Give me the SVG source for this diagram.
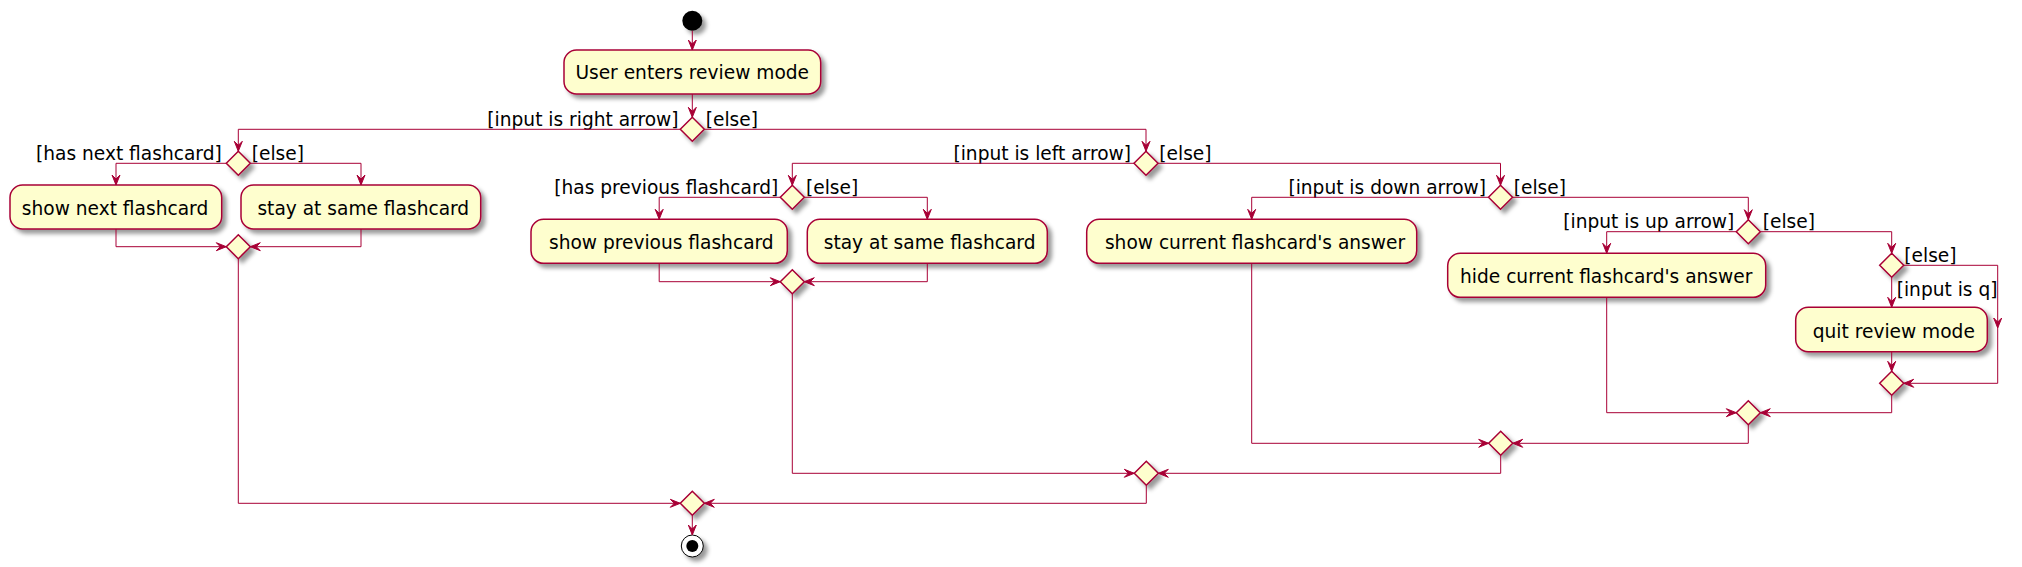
<svg xmlns="http://www.w3.org/2000/svg" width="2022" height="567" viewBox="0 0 2022 567">
<defs>
<filter id="sh" x="-1" y="-1" width="300%" height="300%">
<feGaussianBlur result="b1" stdDeviation="2"/>
<feColorMatrix in="b1" result="b2" type="matrix" values="0 0 0 0 0 0 0 0 0 0 0 0 0 0 0 0 0 0 .4 0"/>
<feOffset dx="4" dy="4" in="b2" result="b3"/>
<feBlend in="SourceGraphic" in2="b3" mode="normal"/>
</filter>
<marker id="ah" viewBox="-11 -5 12 10" markerWidth="12" markerHeight="10" refX="0" refY="0" markerUnits="userSpaceOnUse" orient="auto">
<path d="M0,0 L-10,-4 L-6,0 L-10,4 Z" fill="#A80036" stroke="#A80036" stroke-width="1"/>
</marker>
</defs>
<style>
.box{fill:#FEFECE;stroke:#A80036;stroke-width:1.5;filter:url(#sh)}
.dia{fill:#FEFECE;stroke:#A80036;stroke-width:1.5;filter:url(#sh)}
.t{font-family:"DejaVu Sans","Liberation Sans",sans-serif;font-size:18.6px;fill:#000}
.c{stroke:#A80036;stroke-width:1;fill:none;marker-end:url(#ah)}
</style>
<rect width="2022" height="567" fill="#FFFFFF"/>

<g id="start"><circle cx="692.3" cy="20.7" r="10" fill="#000" filter="url(#sh)"/></g>

<g id="n-enter"><rect class="box" x="564" y="50" width="256.7" height="44" rx="12.5"/><text class="t" x="692.2" y="79" text-anchor="middle">User enters review mode</text></g>

<g id="d-right"><polygon class="dia" points="692.3,117.3 704.3,129.3 692.3,141.3 680.3,129.3"/><text class="t" x="678.5" y="125.5" text-anchor="end">[input is right arrow]</text><text class="t" x="705.7" y="125.5">[else]</text></g>

<g id="d-hasnext"><polygon class="dia" points="238.3,151.3 250.3,163.3 238.3,175.3 226.3,163.3"/><text class="t" x="221.7" y="159.5" text-anchor="end">[has next flashcard]</text><text class="t" x="251.7" y="159.5">[else]</text></g>

<g id="n-shownext"><rect class="box" x="10" y="185" width="211.7" height="44" rx="12.5"/><text class="t" x="115" y="215" text-anchor="middle">show next flashcard</text></g>

<g id="n-stay1"><rect class="box" x="241" y="185" width="239.7" height="44" rx="12.5"/><text class="t" x="363.3" y="215" text-anchor="middle">stay at same flashcard</text></g>

<g id="m-hasnext"><polygon class="dia" points="238.3,234.7 250.3,246.7 238.3,258.7 226.3,246.7"/></g>

<g id="d-left"><polygon class="dia" points="1146,151.3 1158,163.3 1146,175.3 1134,163.3"/><text class="t" x="1131" y="159.5" text-anchor="end">[input is left arrow]</text><text class="t" x="1159.3" y="159.5">[else]</text></g>

<g id="d-hasprev"><polygon class="dia" points="792.3,185.3 804.3,197.3 792.3,209.3 780.3,197.3"/><text class="t" x="778.3" y="193.5" text-anchor="end">[has previous flashcard]</text><text class="t" x="806" y="193.5">[else]</text></g>

<g id="n-showprev"><rect class="box" x="531" y="219.3" width="256.3" height="44" rx="12.5"/><text class="t" x="661.3" y="249.3" text-anchor="middle">show previous flashcard</text></g>

<g id="n-stay2"><rect class="box" x="807.3" y="219.3" width="240" height="44" rx="12.5"/><text class="t" x="929.6" y="249.3" text-anchor="middle">stay at same flashcard</text></g>

<g id="m-hasprev"><polygon class="dia" points="792.3,269.7 804.3,281.7 792.3,293.7 780.3,281.7"/></g>

<g id="d-down"><polygon class="dia" points="1500.5,185.3 1512.5,197.3 1500.5,209.3 1488.5,197.3"/><text class="t" x="1486" y="193.5" text-anchor="end">[input is down arrow]</text><text class="t" x="1513.7" y="193.5">[else]</text></g>

<g id="n-showans"><rect class="box" x="1086.7" y="219.3" width="330" height="44" rx="12.5"/><text class="t" x="1255" y="249.3" text-anchor="middle">show current flashcard's answer</text></g>

<g id="d-up"><polygon class="dia" points="1748.3,219.7 1760.3,231.7 1748.3,243.7 1736.3,231.7"/><text class="t" x="1734.3" y="227.8" text-anchor="end">[input is up arrow]</text><text class="t" x="1762.7" y="227.8">[else]</text></g>

<g id="n-hideans"><rect class="box" x="1447.7" y="253.3" width="318" height="44" rx="12.5"/><text class="t" x="1606.2" y="283.3" text-anchor="middle">hide current flashcard's answer</text></g>

<g id="d-q"><polygon class="dia" points="1891.7,253.3 1903.7,265.3 1891.7,277.3 1879.7,265.3"/><text class="t" x="1904.3" y="261.5">[else]</text><text class="t" x="1896.7" y="296">[input is q]</text></g>

<g id="n-quit"><rect class="box" x="1795.7" y="307.3" width="191.6" height="44.4" rx="12.5"/><text class="t" x="1893.8" y="337.5" text-anchor="middle">quit review mode</text></g>

<g id="m-q"><polygon class="dia" points="1891.7,371.3 1903.7,383.3 1891.7,395.3 1879.7,383.3"/></g>
<g id="m-up"><polygon class="dia" points="1748.3,400.7 1760.3,412.7 1748.3,424.7 1736.3,412.7"/></g>
<g id="m-down"><polygon class="dia" points="1500.7,431.3 1512.7,443.3 1500.7,455.3 1488.7,443.3"/></g>
<g id="m-left"><polygon class="dia" points="1146.3,461.3 1158.3,473.3 1146.3,485.3 1134.3,473.3"/></g>
<g id="m-right"><polygon class="dia" points="692.3,491.3 704.3,503.3 692.3,515.3 680.3,503.3"/></g>

<g id="end"><circle cx="692.3" cy="546" r="11" fill="#FFFFFF" stroke="#000" stroke-width="1" filter="url(#sh)"/><circle cx="692.3" cy="546" r="6" fill="#000"/></g>

<g id="connectors">
<polyline class="c" points="692.3,30.7 692.3,50"/>
<polyline class="c" points="692.3,94 692.3,117.3"/>
<polyline class="c" points="680.3,129.3 238.3,129.3 238.3,151.3"/>
<polyline class="c" points="704.3,129.3 1146,129.3 1146,151.3"/>
<polyline class="c" points="226.3,163.3 116,163.3 116,185"/>
<polyline class="c" points="250.3,163.3 361,163.3 361,185"/>
<polyline class="c" points="116,229 116,246.7 226.3,246.7"/>
<polyline class="c" points="361,229 361,246.7 250.3,246.7"/>
<polyline class="c" points="238.3,258.7 238.3,503.3 680.3,503.3"/>
<polyline class="c" points="1134,163.3 792.3,163.3 792.3,185.3"/>
<polyline class="c" points="1158,163.3 1500.5,163.3 1500.5,185.3"/>
<polyline class="c" points="780.3,197.3 659.2,197.3 659.2,219.3"/>
<polyline class="c" points="804.3,197.3 927.3,197.3 927.3,219.3"/>
<polyline class="c" points="659.2,263.3 659.2,281.7 780.3,281.7"/>
<polyline class="c" points="927.3,263.3 927.3,281.7 804.3,281.7"/>
<polyline class="c" points="792.3,293.7 792.3,473.3 1134.3,473.3"/>
<polyline class="c" points="1488.5,197.3 1251.7,197.3 1251.7,219.3"/>
<polyline class="c" points="1512.5,197.3 1748.3,197.3 1748.3,219.7"/>
<polyline class="c" points="1251.7,263.3 1251.7,443.3 1488.7,443.3"/>
<polyline class="c" points="1736.3,231.7 1606.7,231.7 1606.7,253.3"/>
<polyline class="c" points="1760.3,231.7 1891.7,231.7 1891.7,253.3"/>
<polyline class="c" points="1891.7,277.3 1891.7,307.3"/>
<polyline class="c" points="1903.7,265.3 1997.7,265.3 1997.7,328"/>
<polyline class="c" points="1997.7,328 1997.7,383.3 1903.7,383.3"/>
<polyline class="c" points="1891.7,351.7 1891.7,371.3"/>
<polyline class="c" points="1891.7,395.3 1891.7,412.7 1760.3,412.7"/>
<polyline class="c" points="1606.7,297.3 1606.7,412.7 1736.3,412.7"/>
<polyline class="c" points="1748.3,424.7 1748.3,443.3 1512.7,443.3"/>
<polyline class="c" points="1500.7,455.3 1500.7,473.3 1158.3,473.3"/>
<polyline class="c" points="1146.3,485.3 1146.3,503.3 704.3,503.3"/>
<polyline class="c" points="692.3,515.3 692.3,535"/>
</g>
</svg>
